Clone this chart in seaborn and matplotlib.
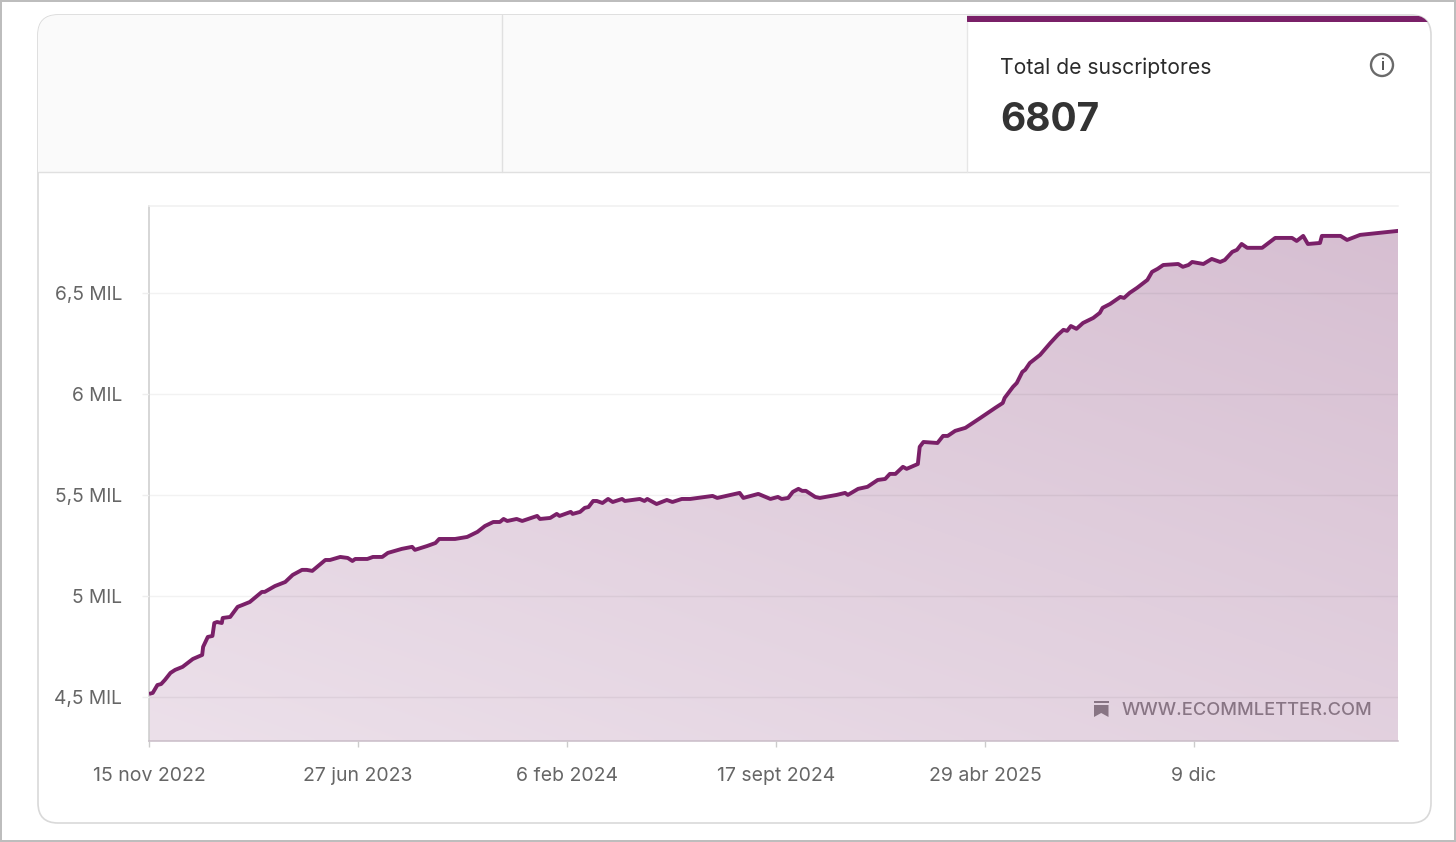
import numpy as np
import matplotlib
matplotlib.use("Agg")
import matplotlib.pyplot as plt
from matplotlib.patches import FancyBboxPatch, Rectangle, Circle, Polygon
import seaborn as sns

# days since 15 nov 2022 and subscribers
days = [0, 4, 9, 13, 17, 23, 28, 36, 47, 57,
        58, 63, 68, 70, 73, 78, 79, 87, 95, 100,
        108, 121, 124, 135, 146, 154, 164, 169, 175, 189,
        194, 205, 213, 218, 221, 234, 240, 250, 256, 271,
        282, 285, 298, 307, 311, 317, 328, 341, 352, 360,
        369, 376, 380, 384, 394, 400, 416, 419, 430, 437,
        440, 452, 454, 462, 467, 471, 476, 480, 486, 492,
        497, 507, 510, 526, 531, 534, 544, 555, 561, 571,
        580, 604, 609, 633, 637, 653, 666, 674, 678, 685,
        690, 696, 700, 704, 714, 719, 737, 746, 749, 760,
        770, 781, 789, 794, 800, 808, 812, 824, 826, 830,
        845, 851, 856, 864, 875, 891, 907, 915, 917, 926,
        930, 936, 939, 944, 955, 966, 974, 980, 984, 988,
        994, 1001, 1012, 1019, 1022, 1030, 1041, 1045, 1051, 1059,
        1070, 1075, 1081, 1087, 1103, 1108, 1114, 1118, 1130, 1139,
        1148, 1153, 1161, 1166, 1171, 1177, 1193, 1207, 1225, 1230,
        1237, 1242, 1255, 1257, 1277, 1284, 1298, 1319, 1339]
subs = [4515, 4520, 4559, 4564, 4584, 4619, 4634, 4649, 4688, 4708,
        4748, 4797, 4802, 4866, 4871, 4866, 4891, 4896, 4946, 4955,
        4970, 5020, 5020, 5049, 5069, 5104, 5129, 5129, 5124, 5178,
        5178, 5193, 5188, 5173, 5183, 5183, 5193, 5193, 5213, 5233,
        5243, 5228, 5247, 5262, 5282, 5282, 5282, 5292, 5317, 5346,
        5366, 5366, 5381, 5371, 5381, 5371, 5396, 5381, 5386, 5406,
        5396, 5416, 5406, 5416, 5436, 5440, 5470, 5470, 5460, 5480,
        5465, 5480, 5470, 5480, 5470, 5480, 5455, 5475, 5465, 5480,
        5480, 5495, 5485, 5510, 5485, 5505, 5480, 5490, 5480, 5485,
        5515, 5530, 5520, 5520, 5490, 5485, 5500, 5510, 5500, 5530,
        5540, 5574, 5579, 5604, 5604, 5639, 5629, 5653, 5738, 5762,
        5757, 5792, 5792, 5817, 5832, 5881, 5931, 5955, 5980, 6035,
        6054, 6109, 6119, 6153, 6193, 6252, 6292, 6317, 6312, 6336,
        6322, 6351, 6376, 6401, 6426, 6445, 6480, 6475, 6500, 6525,
        6564, 6604, 6619, 6638, 6643, 6629, 6638, 6653, 6643, 6668,
        6653, 6663, 6703, 6713, 6742, 6723, 6723, 6772, 6772, 6757,
        6782, 6742, 6747, 6782, 6782, 6762, 6787, 6797, 6807]

x_ticks = [0, 224, 448, 672, 896, 1120]
x_labels = ["15 nov 2022", "27 jun 2023", "6 feb 2024", "17 sept 2024", "29 abr 2025", "9 dic"]
y_ticks = [4500, 5000, 5500, 6000, 6500]
y_labels = ["4,5 MIL", "5 MIL", "5,5 MIL", "6 MIL", "6,5 MIL"]

LINE = "#7a2068"
W, H = 1456, 842

sns.set_theme(style="white")
plt.rcParams["font.family"] = ["Inter", "DejaVu Sans"]

fig = plt.figure(figsize=(W / 100, H / 100), dpi=100, facecolor="white")

# card behind the chart, in pixel coordinates
bg = fig.add_axes([0, 0, 1, 1], zorder=0)
bg.set_xlim(0, W)
bg.set_ylim(H, 0)
bg.axis("off")

for r in [(0, 0, W, 2), (0, H - 2, W, 2), (0, 0, 2, H), (W - 2, 0, 2, H)]:
    bg.add_patch(Rectangle(r[:2], r[2], r[3], fc="#bdbdbd", ec="none"))

card = FancyBboxPatch((38, 15), 1393, 808, boxstyle="round,pad=0,rounding_size=20",
                      fc="white", ec="#d9d9d9", lw=1.2, zorder=1)
bg.add_patch(card)

tab = Rectangle((38, 15), 929, 157, fc="#fafafa", ec="none", zorder=2)
bg.add_patch(tab)
tab.set_clip_path(card)
top = Rectangle((967, 16), 464, 6, fc=LINE, ec="none", zorder=3)
bg.add_patch(top)
top.set_clip_path(card)
bg.plot([38, 1431], [172, 172], color="#e0e0e0", lw=1, zorder=3)
bg.plot([502, 502], [15, 172], color="#e0e0e0", lw=1, zorder=3)
bg.plot([967, 967], [22, 172], color="#e6e6e6", lw=1, zorder=3)

bg.text(1000, 67.5, "Total de suscriptores", fontsize=15.2, color="#2b2b2b", va="center", ha="left", zorder=4)
bg.text(1000, 120.5, "6807", fontsize=28, fontweight="bold", color="#333333", va="center", ha="left", zorder=4)
bg.add_patch(Circle((1382, 65), 11, fc="none", ec="#6a6a6a", lw=1.7, zorder=4))
bg.text(1382, 65.5, "i", fontsize=11, fontweight="semibold", color="#555555", va="center", ha="center", zorder=4)

# chart
ax = fig.add_axes([149 / W, 1 - 741 / H, (1398 - 149) / W, (741 - 206) / H], zorder=1)
ax.patch.set_alpha(0)

sns.lineplot(x=days, y=subs, color=LINE, lw=2.8, ax=ax, zorder=4, errorbar=None, estimator=None,
             sort=False, solid_joinstyle="round", solid_capstyle="butt")
ax.set_xlim(0, 1338.6)
ax.set_ylim(4282, 6930)

area = ax.fill_between(days, subs, 4282, color="none", lw=0)
light = np.array([236, 224, 234]) / 255
dark = np.array([214, 190, 209]) / 255
gx, gy = np.meshgrid(np.linspace(0, 1, 200), np.linspace(1, 0, 120))
t = (0.45 * gx + 0.55 * gy)[..., None]
grad = ax.imshow(light + (dark - light) * t, extent=(0, 1, 0, 1), transform=ax.transAxes,
                 aspect="auto", zorder=1, interpolation="bilinear")
grad.set_clip_path(area.get_paths()[0], transform=ax.transData)
ax.set_xlim(0, 1338.6)
ax.set_ylim(4282, 6930)

ax.set_xticks(x_ticks, x_labels)
ax.set_yticks(y_ticks, y_labels)
ax.yaxis.grid(True, color="black", alpha=0.05, lw=1, zorder=2)
ax.xaxis.grid(False)
ax.set_axisbelow(False)
ax.tick_params(axis="x", length=4.5, width=1, color="#cccccc", labelsize=14, labelcolor="#666666", pad=14, bottom=True)
ax.tick_params(axis="y", length=5, width=1, color="#eeeeee", labelsize=13.8, labelcolor="#666666", pad=14.4, left=True)

ax.spines["right"].set_visible(False)
ax.spines["top"].set_color("#f0f0f0")
ax.spines["left"].set_color("#cccccc")
ax.spines["bottom"].set_color("#c9bcc7")
for s in ax.spines.values():
    s.set_linewidth(1.1)

# watermark on top of the area
fg = fig.add_axes([0, 0, 1, 1], zorder=2)
fg.set_xlim(0, W)
fg.set_ylim(H, 0)
fg.axis("off")
mark = "#887584"
fg.add_patch(Rectangle((1094, 701), 14.5, 2.2, fc=mark, ec="none"))
fg.add_patch(Polygon([(1094, 705), (1108.5, 705), (1108.5, 717), (1101.2, 713), (1094, 717)], fc=mark, ec="none"))
fg.text(1372, 710.5, "WWW.ECOMMLETTER.COM", fontsize=13.2, fontweight="medium", color=mark, va="center", ha="right")

fig.savefig("out.png", dpi=100)
